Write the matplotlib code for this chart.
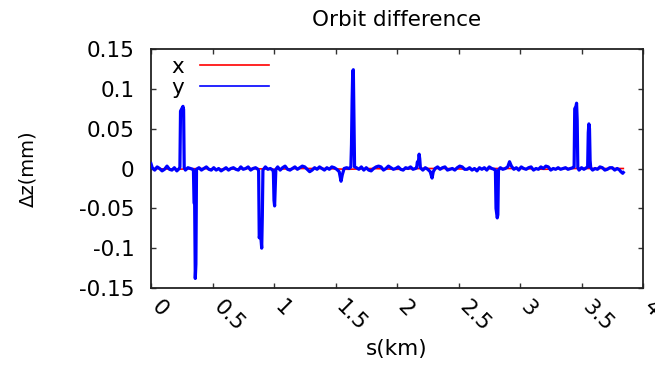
import matplotlib
matplotlib.use("Agg")
import matplotlib.pyplot as plt
from matplotlib.lines import Line2D
from matplotlib.transforms import ScaledTranslation

# ---- data ----
s_y = [0.00, 0.01, 0.03, 0.05, 0.07, 0.09, 0.11, 0.13, 0.15, 0.17, 0.19, 0.21, 0.23,
       0.235, 0.24, 0.25, 0.26, 0.265, 0.27,
       0.28, 0.30, 0.32, 0.34,
       0.345, 0.35, 0.355, 0.36, 0.365, 0.37,
       0.39, 0.41, 0.43, 0.45, 0.47, 0.49, 0.51, 0.53, 0.55, 0.57, 0.59, 0.61, 0.63,
       0.65, 0.67, 0.69, 0.71, 0.73, 0.75, 0.77, 0.79, 0.81, 0.83, 0.85, 0.87,
       0.875, 0.88, 0.89, 0.90, 0.905, 0.91,
       0.93, 0.95, 0.97, 0.99,
       0.995, 1.00, 1.005, 1.01, 1.015,
       1.03, 1.05, 1.07, 1.09, 1.11, 1.13, 1.15, 1.17, 1.19, 1.21, 1.23, 1.25, 1.27,
       1.29, 1.31, 1.33, 1.35, 1.37, 1.39, 1.41, 1.43, 1.45, 1.47, 1.49, 1.51, 1.53,
       1.545, 1.555, 1.57, 1.59, 1.61, 1.625,
       1.63, 1.635, 1.64, 1.645, 1.65, 1.655,
       1.67, 1.69, 1.71, 1.73, 1.75, 1.77, 1.79, 1.81, 1.83, 1.85, 1.87, 1.89, 1.91,
       1.93, 1.95, 1.97, 1.99, 2.01, 2.03, 2.05, 2.07, 2.09, 2.11, 2.13, 2.15, 2.16,
       2.165, 2.175, 2.18, 2.185, 2.19,
       2.21, 2.23, 2.25, 2.27, 2.285, 2.295, 2.31, 2.33, 2.35, 2.37, 2.39, 2.41, 2.43,
       2.45, 2.47, 2.49, 2.51, 2.53, 2.55, 2.57, 2.59, 2.61, 2.63, 2.65, 2.67, 2.69,
       2.71, 2.73, 2.75, 2.77, 2.79,
       2.80, 2.805, 2.815, 2.82, 2.825,
       2.84, 2.86, 2.88, 2.90, 2.915, 2.93, 2.95, 2.97, 2.99, 3.01, 3.03, 3.05, 3.07,
       3.09, 3.11, 3.13, 3.15, 3.17, 3.19, 3.21, 3.23, 3.25, 3.27, 3.29, 3.31, 3.33,
       3.35, 3.37, 3.39, 3.41, 3.43,
       3.44, 3.445, 3.455, 3.46, 3.465, 3.47,
       3.48, 3.50, 3.52, 3.54,
       3.55, 3.555, 3.56, 3.565, 3.57, 3.575,
       3.59, 3.61, 3.63, 3.65, 3.67, 3.69, 3.71, 3.73, 3.75, 3.77, 3.79, 3.81, 3.82,
       3.835, 3.84]

dz_y = [0.006, 0.001, -0.002, 0.002, 0.000, -0.003, -0.001, 0.003, -0.001, -0.002, 0.001, -0.003, 0.000,
        0.002, 0.072, 0.075, 0.078, 0.074, 0.001,
        -0.002, 0.001, 0.000, -0.001,
        -0.002, -0.043, -0.045, -0.138, -0.120, -0.001,
        0.001, -0.002, 0.000, 0.002, -0.001, -0.002, 0.001, -0.002, 0.000, -0.003, -0.001, 0.001, -0.002,
        0.000, 0.001, -0.001, -0.002, 0.002, -0.001, 0.000, 0.002, -0.002, 0.000, 0.001, -0.001,
        -0.003, -0.087, -0.080, -0.100, -0.060, -0.002,
        0.002, -0.001, 0.000, -0.002,
        -0.005, -0.040, -0.047, -0.025, -0.001,
        0.002, -0.002, 0.001, 0.003, -0.001, -0.002, 0.000, 0.002, -0.001, 0.001, 0.003, 0.002, -0.001,
        -0.004, -0.002, 0.001, -0.001, 0.002, 0.000, -0.002, 0.001, -0.001, 0.002, 0.001, -0.001, -0.004,
        -0.016, -0.008, 0.000, 0.001, 0.000, 0.002,
        0.030, 0.085, 0.122, 0.124, 0.060, 0.002,
        0.001, -0.001, 0.002, -0.002, 0.001, -0.002, -0.003, 0.000, 0.002, 0.003, 0.002, -0.002, 0.000,
        0.003, 0.001, -0.001, 0.000, 0.002, -0.001, -0.002, 0.001, 0.000, 0.002, -0.001, 0.000, 0.001,
        0.008, 0.010, 0.018, 0.012, 0.001,
        -0.002, 0.001, -0.001, -0.004, -0.012, -0.004, 0.000, 0.002, -0.001, 0.001, 0.002, -0.002, -0.001,
        0.000, -0.002, 0.001, 0.003, 0.002, -0.001, -0.001, 0.001, -0.002, 0.000, -0.003, 0.001, -0.001,
        0.001, -0.002, 0.002, 0.000, -0.001,
        -0.002, -0.050, -0.062, -0.058, -0.002,
        0.001, -0.001, 0.000, 0.002, 0.0085, 0.003, -0.001, 0.001, -0.002, 0.002, 0.000, -0.001, 0.001,
        0.002, -0.002, 0.000, -0.001, 0.002, 0.000, 0.003, 0.002, -0.002, 0.000, -0.001, 0.001, -0.001,
        0.000, 0.001, -0.001, 0.000, 0.001,
        0.002, 0.075, 0.078, 0.082, 0.060, 0.001,
        -0.002, 0.001, -0.001, 0.001,
        0.002, 0.045, 0.056, 0.050, 0.010, 0.001,
        -0.002, 0.000, -0.001, 0.002, 0.001, -0.002, -0.001, 0.001, 0.001, -0.002, 0.000, -0.002, -0.004,
        -0.006, -0.005]

s_x = [0.00, 0.20, 0.40, 0.60, 0.80, 1.00, 1.20, 1.40, 1.60, 1.80, 2.00, 2.20, 2.40,
       2.60, 2.80, 3.00, 3.20, 3.40, 3.60, 3.84]
dz_x = [0.000, -0.001, 0.000, -0.001, 0.000, -0.001, 0.000, 0.000, -0.001, 0.000,
        -0.001, 0.000, 0.000, -0.001, 0.000, 0.000, -0.001, 0.000, 0.000, 0.000]

x_ticks = [0, 0.5, 1, 1.5, 2, 2.5, 3, 3.5, 4]
x_tick_labels = ["0", "0.5", "1", "1.5", "2", "2.5", "3", "3.5", "4"]
y_ticks = [-0.15, -0.1, -0.05, 0, 0.05, 0.1, 0.15]
y_tick_labels = ["-0.15", "-0.1", "-0.05", "0", "0.05", "0.1", "0.15"]

plt.rcParams["font.family"] = ["DejaVu Sans"]
FS = 15.5

fig = plt.figure(figsize=(6.55, 3.70), dpi=100)
ax = fig.add_axes([151 / 655, 1 - 288 / 370, (643 - 151) / 655, (288 - 49) / 370])

ax.plot(s_x, dz_x, color="#ff0000", lw=1.2, label="x", zorder=2)
ax.plot(s_y, dz_y, color="#0000ff", lw=2.3, label="y", zorder=3)

ax.set_xlim(0, 4)
ax.set_ylim(-0.15, 0.15)
ax.set_xticks(x_ticks)
ax.set_yticks(y_ticks)
ax.set_yticklabels(y_tick_labels, fontsize=FS)
ax.set_xticklabels(x_tick_labels, fontsize=FS, rotation=-45, ha="left", va="top",
                   rotation_mode="anchor")
ax.tick_params(direction="in", length=3.8, width=1.0, top=True, right=True,
               colors="#333333", labelcolor="black")
ax.tick_params(axis="y", pad=12)
ax.tick_params(axis="x", pad=6.5)
shift = ScaledTranslation(11 / 100, 0, fig.dpi_scale_trans)
for lab in ax.get_xticklabels():
    lab.set_transform(lab.get_transform() + shift)
for sp in ax.spines.values():
    sp.set_linewidth(1.3)
    sp.set_color("#222222")

ax.set_xlabel("s(km)", fontsize=FS, va="top")
ax.xaxis.set_label_coords(0.5, -(339 - 288) / 239)
ax.set_ylabel("Δz(mm)", fontsize=14)
ax.yaxis.set_label_coords(-(151 - 37) / 492, 0.5)
ax.set_title("Orbit difference", fontsize=FS, pad=16.5)

handles = [Line2D([], [], color="#ff0000", lw=1.2), Line2D([], [], color="#0000ff", lw=1.2)]
ax.legend(handles, ["x", "y"], loc="upper left", bbox_to_anchor=(0.011, 1.03),
          frameon=False, markerfirst=False, handlelength=3.2, handletextpad=0.75,
          labelspacing=0.05, fontsize=FS, borderpad=0.2)

fig.savefig("out.png", dpi=100)
